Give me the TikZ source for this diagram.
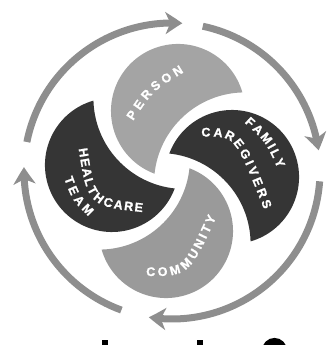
\documentclass[tikz,border=0pt]{standalone}
\usepackage{fontspec}
\setmainfont{Liberation Sans}
\newfontfamily\heavyfont[BoldFeatures={FakeBold=1.2}]{Liberation Sans}
\usetikzlibrary{arrows.meta,bending,decorations.text}
\definecolor{ringgray}{HTML}{8E8E8E}
\definecolor{persongray}{HTML}{A4A4A4}
\definecolor{commgray}{HTML}{9A9A9A}
\definecolor{darkpetal}{HTML}{353535}
\newcommand{\lblfont}{\heavyfont\fontsize{12.5}{14}\selectfont\bfseries\color{white}}
\begin{document}
\begin{tikzpicture}[x=1pt,y=1pt,
  ringarrow/.style={draw=ringgray,line width=7pt,-{Stealth[length=17pt,width=22pt,inset=5pt,bend]}},
  lbltext/.style={decorate,decoration={text along path,text align=fit to path,raise=-4.4pt,text={|\lblfont|#1}}}]
\useasboundingbox (-172,-174) rectangle (163,171);
\clip (-172,-174) rectangle (163,171);
% petals
\begin{scope}[rotate=0]
  \fill[persongray] (70.4,78.5) arc[start angle=16,end angle=249.5,radius=67pt] arc[start angle=173.9,end angle=91.6,radius=91pt] -- cycle;
\end{scope}
\begin{scope}[rotate=-90]
  \fill[darkpetal] (70.4,78.5) arc[start angle=16,end angle=249.5,radius=67pt] arc[start angle=173.9,end angle=91.6,radius=91pt] -- cycle;
\end{scope}
\begin{scope}[rotate=-180]
  \fill[commgray] (70.4,78.5) arc[start angle=16,end angle=249.5,radius=67pt] arc[start angle=173.9,end angle=91.6,radius=91pt] -- cycle;
\end{scope}
\begin{scope}[rotate=90]
  \fill[darkpetal] (70.4,78.5) arc[start angle=16,end angle=249.5,radius=67pt] arc[start angle=173.9,end angle=91.6,radius=91pt] -- cycle;
\end{scope}
% labels
\path[lbltext=PERSON] (-42.6,52.5) .. controls (-22.1,83.3) .. (9.6,102.5);
\path[lbltext=FAMILY] (75.4,51.6) .. controls (97.3,31.6) .. (109.6,4.4);
\path[lbltext=CAREGIVERS] (29.4,38.9) .. controls (66.2,39) .. (96.2,-36.9);
\path[lbltext=HEALTHCARE] (-89,22.9) .. controls (-80.5,-31.1) .. (-29,-36.7);
\path[lbltext=TEAM] (-103.7,-5.8) .. controls (-95.95,-26.65) .. (-80.4,-42.3);
\path[lbltext=COMMUNITY] (-25.75,-100.6) .. controls (14.3,-100.95) .. (40.2,-44.5);
% ring of arrows
\draw[ringarrow] (168.7:148pt) arc[start angle=168.7,end angle=86,radius=148pt];
\draw[ringarrow] (78:148pt) arc[start angle=78,end angle=8,radius=148pt];
\draw[ringarrow] (-4:148pt) arc[start angle=-4,end angle=-99,radius=148pt];
\draw[ringarrow] (-110:148pt) arc[start angle=-110,end angle=-181.5,radius=148pt];
% cut-off glyph tops at bottom edge
\fill[black] (-70,-169) rectangle (-64,-180);
\fill[black] (25,-169) rectangle (31,-180);
\draw[black,line width=7pt] (111.5,-179.5) arc[start angle=0,end angle=180,radius=9pt];
\end{tikzpicture}
\end{document}
